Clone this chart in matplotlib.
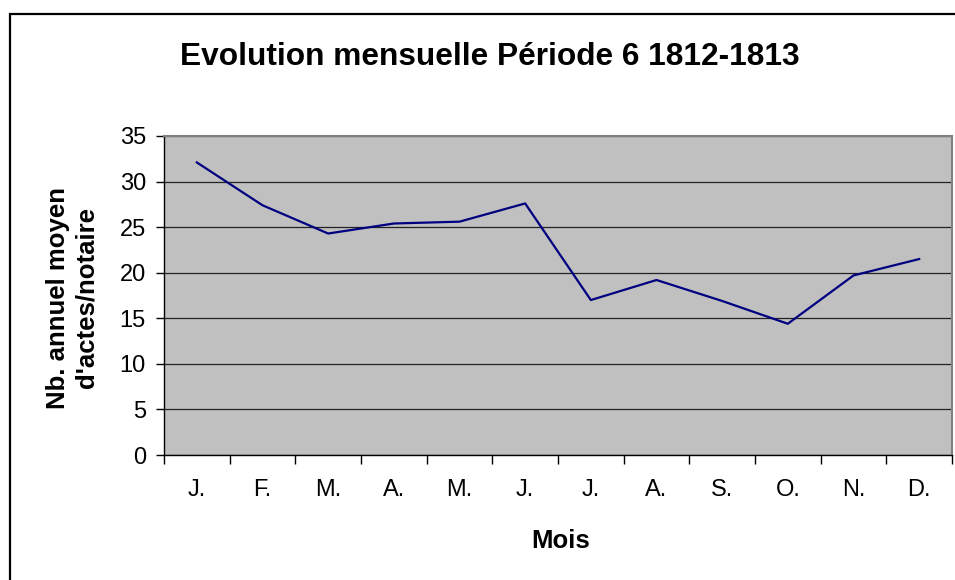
import matplotlib
matplotlib.use("Agg")
import matplotlib.pyplot as plt
from matplotlib.patches import Rectangle

months = ["J.", "F.", "M.", "A.", "M.", "J.", "J.", "A.", "S.", "O.", "N.", "D."]
values = [32.1, 27.4, 24.3, 25.4, 25.6, 27.6, 17.0, 19.2, 16.9, 14.4, 19.7, 21.5]
yticks = [0, 5, 10, 15, 20, 25, 30, 35]

plt.rcParams['font.family'] = ['Liberation Sans', 'DejaVu Sans']

W, H = 955, 580
fig = plt.figure(figsize=(W / 100, H / 100), dpi=100)
fig.patch.set_facecolor('white')

# outer chart frame
fig.add_artist(Rectangle((10/W, -0.2), 2.0, 1.2 - 14/H, transform=fig.transFigure,
                         fill=False, edgecolor='black', linewidth=1.6))

ax = fig.add_axes([164/W, 1 - 455/H, 788/W, 319/H])
ax.set_facecolor('#C0C0C0')
x = list(range(len(months)))
ax.plot(x, values, color='#000080', linewidth=1.6, zorder=3)

ax.set_xlim(-0.5, len(months) - 0.5)
ax.set_ylim(0, 35)
ax.set_yticks(yticks)
ax.set_yticklabels([str(t) for t in yticks], fontsize=17)
ax.yaxis.grid(True, color='#222222', linewidth=0.9)
ax.set_axisbelow(True)

ax.set_xticks(x)
ax.set_xticklabels(months, fontsize=17)
ax.tick_params(axis='x', which='major', length=0, pad=17)
ax.set_xticks([i - 0.5 for i in range(len(months) + 1)], minor=True)
ax.tick_params(axis='x', which='minor', length=6.5, width=1, direction='out', color='black')
ax.tick_params(axis='y', length=6, width=1, direction='out', pad=7)

for s in ['top', 'right']:
    ax.spines[s].set_color('#808080')
    ax.spines[s].set_linewidth(1.5)
for s in ['left', 'bottom']:
    ax.spines[s].set_color('black')
    ax.spines[s].set_linewidth(1.0)

fig.text(561/W, 1 - 548/H, "Mois", fontsize=18.5, fontweight='bold',
         ha='center', va='baseline')
fig.text(72/W, 1 - 298/H, "Nb. annuel moyen\nd'actes/notaire", fontsize=18.5,
         fontweight='bold', ha='center', va='center', rotation=90,
         linespacing=1.25, multialignment='center')

fig.text(490/W, 1 - 65/H, "Evolution mensuelle Période 6 1812-1813",
         fontsize=22.8, fontweight='bold', ha='center', va='baseline')

fig.savefig("out.png", dpi=100)
